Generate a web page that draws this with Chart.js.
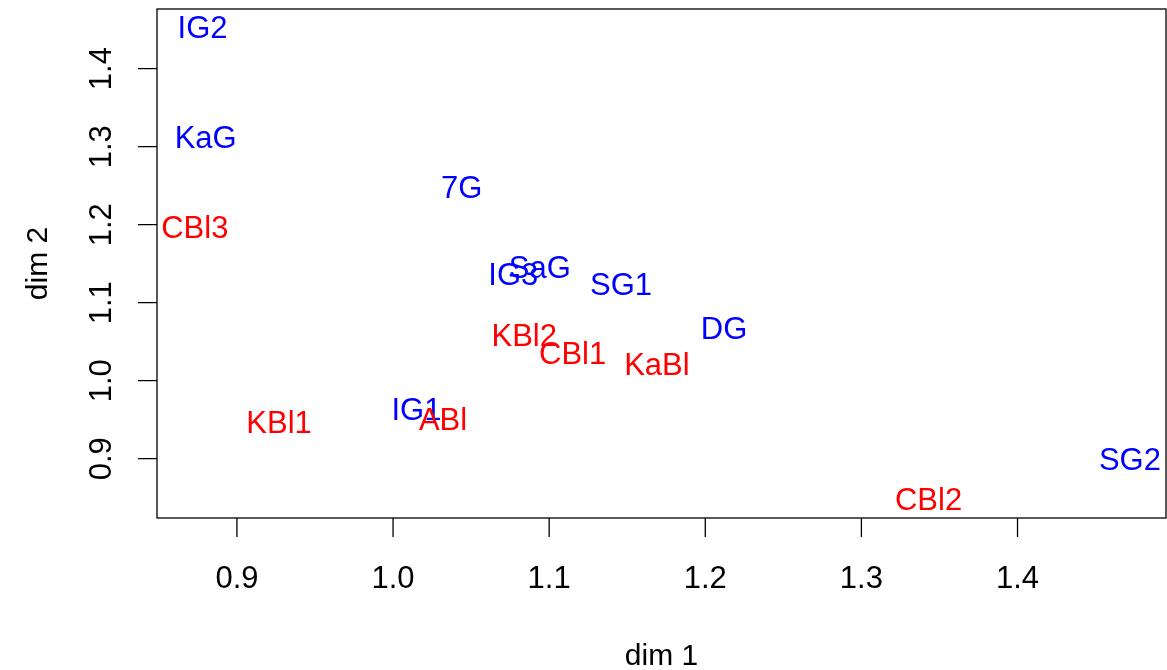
<!DOCTYPE html>
<html>
<head>
<meta charset="utf-8">
<script src="https://cdn.jsdelivr.net/npm/chart.js@4"></script>
<style>
  body { margin: 0; background: #fff; }
  canvas { display: block; }
</style>
</head>
<body>
<canvas id="chart" width="1167" height="670"></canvas>
<script>
// labels placed at (dim 1, dim 2)
const nomes = ['IG2', 'KaG', 'CBl3', '7G', 'IG3', 'SaG', 'SG1', 'DG', 'KBl2', 'CBl1', 'KaBl', 'KBl1', 'IG1', 'ABl', 'SG2', 'CBl2'];
const dim1 = [0.878, 0.880, 0.873, 1.044, 1.077, 1.094, 1.146, 1.212, 1.084, 1.115, 1.169, 0.927, 1.015, 1.032, 1.472, 1.343];
const dim2 = [1.454, 1.312, 1.197, 1.248, 1.137, 1.146, 1.124, 1.068, 1.059, 1.036, 1.021, 0.947, 0.964, 0.951, 0.899, 0.848];
const grupo = ['G', 'G', 'Bl', 'G', 'G', 'G', 'G', 'G', 'Bl', 'Bl', 'Bl', 'Bl', 'G', 'Bl', 'G', 'Bl'];
const cores = { G: '#0000ff', Bl: '#ff0000' };

const ticksX = [0.9, 1.0, 1.1, 1.2, 1.3, 1.4];
const ticksY = [0.9, 1.0, 1.1, 1.2, 1.3, 1.4];

const fonte = '31px "Liberation Sans", Arial, sans-serif';

let pontos = [];
for (let i = 0; i < nomes.length; i++) {
    pontos.push({ x: dim1[i], y: dim2[i], nome: nomes[i], cor: cores[grupo[i]] });
}

// R style base plot: box, outside ticks, rotated y labels, text at points
const eixosR = {
    id: 'eixosR',
    afterDatasetsDraw(chart) {
        const c = chart.ctx;
        const a = chart.chartArea;
        const sx = chart.scales.x, sy = chart.scales.y;
        c.save();
        c.strokeStyle = '#000';
        c.lineWidth = 1.3;
        c.strokeRect(a.left, a.top, a.right - a.left, a.bottom - a.top);

        c.font = fonte;
        c.fillStyle = '#000';
        c.textAlign = 'center';
        c.textBaseline = 'alphabetic';

        // x axis
        c.beginPath();
        for (const t of ticksX) {
            const px = sx.getPixelForValue(t);
            c.moveTo(px, a.bottom);
            c.lineTo(px, a.bottom + 19);
        }
        c.stroke();
        for (const t of ticksX) {
            c.fillText(t.toFixed(1), sx.getPixelForValue(t), 588);
        }
        c.font = '30px "Liberation Sans", Arial, sans-serif';
        c.fillText('dim 1', (a.left + a.right) / 2, 665);
        c.font = fonte;

        // y axis
        c.beginPath();
        for (const t of ticksY) {
            const py = sy.getPixelForValue(t);
            c.moveTo(a.left, py);
            c.lineTo(a.left - 19, py);
        }
        c.stroke();
        for (const t of ticksY) {
            c.save();
            c.translate(110.5, sy.getPixelForValue(t));
            c.rotate(-Math.PI / 2);
            c.fillText(t.toFixed(1), 0, 0);
            c.restore();
        }
        c.save();
        c.font = '30px "Liberation Sans", Arial, sans-serif';
        c.translate(47, (a.top + a.bottom) / 2);
        c.rotate(-Math.PI / 2);
        c.fillText('dim 2', 0, 0);
        c.restore();

        // point labels
        for (const p of pontos) {
            c.fillStyle = p.cor;
            c.fillText(p.nome, sx.getPixelForValue(p.x), sy.getPixelForValue(p.y) + 11);
        }
        c.restore();
    }
};

var grafico = new Chart(document.getElementById('chart'), {
    type: 'scatter',
    data: {
        datasets: [{
            data: pontos,
            pointRadius: 0,
            pointHoverRadius: 0
        }]
    },
    options: {
        responsive: false,
        animation: false,
        layout: { padding: { left: 157, top: 9, right: 1, bottom: 152 } },
        plugins: { legend: { display: false }, tooltip: { enabled: false } },
        scales: {
            x: { type: 'linear', display: false, min: 0.8488, max: 1.4951 },
            y: { type: 'linear', display: false, min: 0.824, max: 1.4765 }
        }
    },
    plugins: [eixosR]
});
</script>
</body>
</html>
